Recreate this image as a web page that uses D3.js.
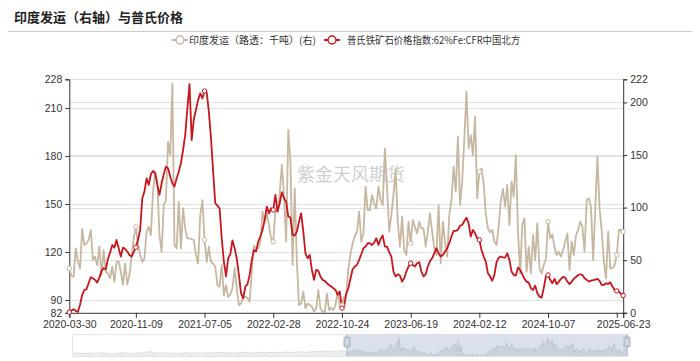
<!DOCTYPE html>
<html><head><meta charset="utf-8">
<script src="https://cdn.jsdelivr.net/npm/d3@7/dist/d3.min.js"></script>
<style>
body{margin:0;background:#fff;}
svg{display:block;font-family:"Noto Sans CJK SC","Noto Sans",sans-serif;}
</style>
</head><body>
<svg id="chart" width="700" height="361"></svg>
<script>
const chartTitle = "印度发运（右轴）与普氏价格";
const seriesNames = ["印度发运（路透：千吨）(右)", "普氏铁矿石价格指数:62%Fe:CFR中国北方"];
const watermark = "紫金天风期货";
const tickIndex = [0,31,63,95,127,159,191,223,255,258];
const tickLabels = ["2020-03-30","2020-11-09","2021-07-05","2022-02-28","2022-10-24","2023-06-19","2024-02-12","2024-10-07","","2025-06-23"];
const leftTicks = [82,90,120,150,180,210,228];
const rightTicks = [0,50,100,150,200,222];

// 普氏铁矿石价格指数 (left axis)
const plattsPrice = [
82.4,83.4,84.2,83.2,82.6,87,93.2,96.3,96.7,100.5,
104.2,103.6,102.6,100.9,104,108.2,109.9,109.2,115.7,119.6,
124.4,122.8,127.6,122.4,117.2,122.8,122,120.3,118.2,117.2,
119.9,123,127.6,133.8,153.6,157.8,166.1,162,168.6,170.7,
169.2,162,155.7,163,168.6,173.4,172.4,167.2,163,160.9,
166.1,170.3,175.5,183.8,193.2,210,225,190,203,209,
215.1,219.2,216.1,220.7,219.9,207.8,191.1,170.3,150.5,149,
147.4,128.6,114,104.7,116.1,118.6,127.2,122.4,116.1,105.7,
94.2,91.1,98.4,99.9,105.7,115.1,121.3,120.3,126.5,129.7,
133.8,140.1,148.4,144.2,147.4,146.3,155.7,145.3,150.5,157.4,
153.6,151.5,142.2,141.5,130.7,130.3,132.8,139,144.2,132.8,
119.2,116.1,118.2,108.8,102.6,108.8,108.2,104.7,102.6,102,
100.5,99.4,98.4,97.4,96.3,93.2,95.3,84.9,85.9,94.2,
97.4,103.6,109.4,110.9,111.9,115.1,118.6,122.4,123.4,125.5,
125.5,124.4,125.9,128.6,124.4,128.2,130.3,123.4,123.4,119.9,
117.2,107.8,104.7,106.1,105.3,101.5,103.6,107.8,110.9,113,
111.9,110.9,113,113.6,107.8,104.7,106.1,110.9,114.4,116.1,
119.2,122.4,119.2,117.2,118.2,120.3,122.4,125.5,129.7,133.2,
133.2,133.8,136.5,136.9,139.4,141.5,138,129.7,133.8,131.7,
128.6,127.6,121.3,117.2,114,106.7,104.7,102,105.7,113.6,
116.5,117.2,116.7,116.5,119.2,115.1,107.8,105.7,105.3,110.3,
108.8,106.1,103.2,101.5,100.9,97.4,96.3,99,94.2,92.1,
91.5,97.4,104.7,105.7,102.6,100.5,103.2,99.9,101.5,103.2,
104.4,104,101.5,99.9,101.5,103.2,104.4,105.5,106.1,105.7,
103.6,102.6,101.5,102.1,102.4,102.8,103.2,102,99.4,99.4,
100.5,99.9,101.1,98.4,96.3,95.7,95.3,93.8,92.8
];

// 印度发运 (right axis, 千吨)
const indiaShip = [
42.2,35.2,34.2,61.2,48.5,42.2,79.6,64.4,66,69.2,
78.7,50.1,53.3,45.4,62.8,35.9,59.6,39,37.4,32.7,
43.8,29.5,48.5,48.5,39,26.9,46.9,26.9,35.9,53.3,
70.7,81.8,66,54.9,48.5,51.7,77.1,81.8,73.9,115.1,
134.1,124.6,73.9,58,102.4,107.2,162.7,150,218.2,64.4,
61.2,105.6,61.2,99.3,80.2,70.7,70.7,70.1,69.2,54.9,
46.9,92.9,107.2,69.2,48.5,62.8,48.5,46.9,43.8,26.3,
24.8,45.4,16.8,26.3,15.2,17.5,23.2,42.8,23.2,7.3,
8.9,15.2,15.2,14.3,10.5,39,63.8,61.2,61.2,67.6,
96.1,86.6,94.5,83.4,70.7,67.6,97.7,96.1,113.5,140.5,
111.9,67.6,173.8,143.7,45.4,118.3,48.5,7.3,8.9,20,
4.2,8.9,7.3,5.7,1,4.2,21.6,4.2,1,0.5,
18.4,2.6,4.8,2.6,7.3,20,5.7,7.3,15.2,16.8,
42.2,56.5,66,73.3,77.1,96.1,67.6,75.5,119.9,97.7,
97.7,111.9,104,99.3,119.9,107.2,102.4,156.3,119.9,77.1,
92.9,111.9,135.7,86.6,62.8,91.3,59.6,54.9,86.6,66,
88.2,81.8,75.5,86.6,80.2,80.2,62.8,77.1,94.5,77.1,
61.2,54.9,102.4,46.9,86.6,67.6,53.3,92.9,107.2,138.9,
115.1,167.4,102.4,124.6,165.9,210.2,156.3,169,150,186.5,
108.8,134.1,137.3,123,94.5,80.2,76.4,78.7,67.6,64.4,
81.8,107.2,117.7,100.9,121.5,83.4,124.6,110.4,150,77.1,
37.4,83.4,89.8,39,62.8,37.4,73.9,50.1,85,42.2,
37.4,45.4,51.7,86.6,70.7,74.5,62.8,54.9,58,53.3,
59.6,67.6,75.5,40.6,67.6,54.9,73.9,78.7,86.6,81.8,
58,107.2,108.8,100.9,50.1,99.3,148.4,99.3,77.1,48.5,
32.7,77.1,42.2,42.2,45.4,54.9,78.7,78.7,77.1
];

// earlier history shown only in the zoom slider preview (coarse estimate)
const previewEarly = [
30,34,28,32,36,30,33,38,31,29,35,40,33,30,36,34,44,52,38,33,
36,32,35,30,34,38,33,36,31,35,40,34,37,42,36,33,38,45,40,35,
38,44,36,40,46,38,42,48,41,45,50,43,47,55,48,52,60,50,56,62
];

const colors = {red:"#c8161d", tan:"#c7b7a0", axis:"#333", grid:"#e0e0e0", text:"#333"};
const axisFont = "'Liberation Sans',Arial,sans-serif";

const svg = d3.select("#chart");
const plot = {left:69.3, right:623.2, top:79.3, bottom:312.8};

const x = d3.scaleLinear().domain([0, plattsPrice.length - 1]).range([plot.left, plot.right]);
const yL = d3.scaleLinear().domain([82, 228]).range([plot.bottom, plot.top]);
const yR = d3.scaleLinear().domain([0, 222]).range([plot.bottom, plot.top]);

// title
svg.append("text").attr("x", 14).attr("y", 22).attr("font-size", 13).attr("font-weight", "bold")
  .attr("fill", "#222").text(chartTitle);
svg.append("line").attr("x1", 8).attr("x2", 692).attr("y1", 31.5).attr("y2", 31.5)
  .attr("stroke", "#ccc").attr("stroke-width", 1);

// legend
const legendItems = [
  {name: seriesNames[0], color: colors.tan, x: 172, tx: 189, len: null},
  {name: seriesNames[1], color: colors.red, x: 324, tx: 347, len: 173}
];
const lg = svg.append("g");
legendItems.forEach(d => {
  const g = lg.append("g").attr("transform", `translate(${d.x},40)`);
  g.append("line").attr("x1", 0).attr("x2", 16).attr("stroke", d.color).attr("stroke-width", 2);
  g.append("circle").attr("cx", 8).attr("r", 4).attr("fill", "#fff").attr("stroke", d.color).attr("stroke-width", 1.5);
  const t = lg.append("text").attr("x", d.tx).attr("y", 43.5).attr("font-size", 10).attr("fill", "#333").text(d.name);
  if (d.len) t.attr("textLength", d.len).attr("lengthAdjust", "spacingAndGlyphs");
});

// watermark
svg.append("text").attr("x", 351).attr("y", 181).attr("text-anchor", "middle")
  .attr("font-size", 18).attr("fill", "#cfcfcf").text(watermark);

// grid lines
const grid = svg.append("g");
leftTicks.filter(v => v !== 82).forEach(v => {
  grid.append("line").attr("x1", plot.left).attr("x2", plot.right)
    .attr("y1", Math.round(yL(v)) + 0.5).attr("y2", Math.round(yL(v)) + 0.5)
    .attr("stroke", colors.grid);
});
rightTicks.filter(v => v !== 0).forEach(v => {
  grid.append("line").attr("x1", plot.left).attr("x2", plot.right)
    .attr("y1", Math.round(yR(v)) + 0.5).attr("y2", Math.round(yR(v)) + 0.5)
    .attr("stroke", colors.grid);
});

// axes
const axL = d3.axisLeft(yL).tickValues(leftTicks).tickSize(4).tickPadding(3);
const axR = d3.axisRight(yR).tickValues(rightTicks).tickSize(4).tickPadding(3);
const axX = d3.axisBottom(x).tickValues(tickIndex).tickSize(5).tickPadding(3)
  .tickFormat((d, i) => tickLabels[i]);

function styleAxis(g, size) {
  g.select(".domain").attr("stroke", colors.axis);
  g.selectAll(".tick line").attr("stroke", colors.axis);
  g.selectAll(".tick text").attr("fill", colors.text).attr("font-size", size)
    .attr("font-family", axisFont);
}
svg.append("g").attr("transform", `translate(${plot.left},0)`).call(axL).call(styleAxis, 10.5);
svg.append("g").attr("transform", `translate(${plot.right},0)`).call(axR).call(styleAxis, 10.5);
svg.append("g").attr("transform", `translate(0,${plot.bottom})`).call(axX).call(styleAxis, 10.5);

// lines
const lineTan = d3.line().x((d, i) => x(i)).y(d => yR(d));
const lineRed = d3.line().x((d, i) => x(i)).y(d => yL(d));
svg.append("path").datum(indiaShip).attr("d", lineTan).attr("fill", "none")
  .attr("stroke", colors.tan).attr("stroke-width", 1.8).attr("stroke-linejoin", "round");
svg.append("path").datum(plattsPrice).attr("d", lineRed).attr("fill", "none")
  .attr("stroke", colors.red).attr("stroke-width", 1.8).attr("stroke-linejoin", "round");

// symbols at labelled positions
const symIdx = tickIndex;
svg.append("g").selectAll("circle").data(symIdx).join("circle")
  .attr("cx", i => x(i)).attr("cy", i => yR(indiaShip[i])).attr("r", 2.2)
  .attr("fill", "#fff").attr("stroke", colors.tan).attr("stroke-width", 1);
svg.append("g").selectAll("circle").data(symIdx).join("circle")
  .attr("cx", i => x(i)).attr("cy", i => yL(plattsPrice[i])).attr("r", 2.2)
  .attr("fill", "#fff").attr("stroke", colors.red).attr("stroke-width", 1);

// data zoom slider
const sl = {x0: 72, x1: 627, y0: 334, y1: 356, sel: 347};
const sg = svg.append("g");
const py = d3.scaleLinear().domain([0, 256]).range([sl.y1, sl.y0]);
const pxE = d3.scaleLinear().domain([0, previewEarly.length]).range([sl.x0, sl.sel]);
const pxS = d3.scaleLinear().domain([0, indiaShip.length - 1]).range([sl.sel, sl.x1]);
sg.append("rect").attr("x", sl.x0 + 0.5).attr("y", sl.y0 + 0.5).attr("width", sl.x1 - sl.x0).attr("height", sl.y1 - sl.y0)
  .attr("fill", "none").attr("stroke", "#dfe3ea");
const areaE = d3.area().x((d, i) => pxE(i)).y0(sl.y1).y1(d => py(d));
const lineE = d3.line().x((d, i) => pxE(i)).y(d => py(d));
const areaS = d3.area().x((d, i) => pxS(i)).y0(sl.y1).y1(d => py(d));
const lineS = d3.line().x((d, i) => pxS(i)).y(d => py(d));
const earlyJoined = previewEarly.concat([indiaShip[0]]);
sg.append("path").datum(earlyJoined).attr("d", areaE).attr("fill", "#eeeeee");
sg.append("path").datum(earlyJoined).attr("d", lineE).attr("fill", "none").attr("stroke", "#d8d8d8").attr("stroke-width", 0.8);
sg.append("rect").attr("x", sl.sel).attr("y", sl.y0).attr("width", sl.x1 - sl.sel).attr("height", sl.y1 - sl.y0)
  .attr("fill", "#dbe1ea");
sg.append("path").datum(indiaShip).attr("d", areaS).attr("fill", "#cbd2de");
sg.append("path").datum(indiaShip).attr("d", lineS).attr("fill", "none").attr("stroke", "#b9c2d0").attr("stroke-width", 0.8);
[sl.sel, sl.x1].forEach(hx => {
  sg.append("line").attr("x1", hx).attr("x2", hx).attr("y1", sl.y0).attr("y2", sl.y1).attr("stroke", "#a9b6c9");
  sg.append("rect").attr("x", hx - 3).attr("y", sl.y0 + 3).attr("width", 6).attr("height", 10).attr("rx", 1)
    .attr("fill", "#bcc7d6").attr("stroke", "#a9b6c9");
  [6, 8, 10].forEach(o => sg.append("line").attr("x1", hx - 2).attr("x2", hx + 2)
    .attr("y1", sl.y0 + o).attr("y2", sl.y0 + o).attr("stroke", "#fff").attr("stroke-width", 0.6));
});
</script>
</body></html>
